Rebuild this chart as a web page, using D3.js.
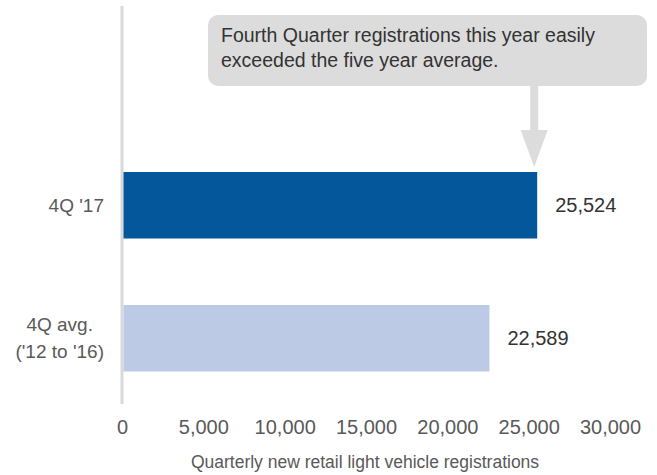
<!DOCTYPE html>
<html>
<head>
<meta charset="utf-8">
<script src="https://cdn.jsdelivr.net/npm/d3@7"></script>
<style>
  body { margin: 0; background: #fff; }
  svg text { font-family: "Liberation Sans Narrow", "Liberation Sans", Arial, sans-serif; }
</style>
</head>
<body>
<div id="chart"></div>
<script>
// data
const categories = [["4Q '17"], ["4Q avg.", "('12 to '16)"]];
const values = [25524, 22589];
const barColors = ["#03579a", "#bccae6"];
const tickValues = [0, 5000, 10000, 15000, 20000, 25000, 30000];
const axisTitle = "Quarterly new retail light vehicle registrations";
const calloutLines = ["Fourth Quarter registrations this year easily", "exceeded the five year average."];

const width = 657, height = 475;

const svg = d3.select('#chart').append('svg')
  .attr('width', width)
  .attr('height', height);

const x = d3.scaleLinear().domain([0, 30000]).range([122, 610]);
const y = d3.scaleBand()
  .domain(d3.range(values.length))
  .range([105.5, 438])
  .paddingInner(0.5)
  .paddingOuter(0.5);

// vertical baseline
svg.append('line')
  .attr('x1', x(0)).attr('x2', x(0))
  .attr('y1', 6).attr('y2', 404)
  .attr('stroke', '#d9d9d9')
  .attr('stroke-width', 3);

// bars
svg.selectAll('rect.bar')
  .data(values)
  .enter().append('rect')
  .attr('class', 'bar')
  .attr('x', x(0) + 1.5)
  .attr('y', (d, i) => y(i))
  .attr('width', d => x(d) - x(0) - 1.5)
  .attr('height', y.bandwidth())
  .attr('fill', (d, i) => barColors[i]);

// value labels
svg.selectAll('text.value')
  .data(values)
  .enter().append('text')
  .attr('class', 'value')
  .attr('x', d => x(d) + 18)
  .attr('y', (d, i) => y(i) + y.bandwidth() / 2)
  .attr('dy', '0.35em')
  .attr('font-size', 20)
  .attr('fill', '#333')
  .text(d => d3.format(',')(d));

// category labels (multi-line block, right edge at 104, lines centred)
categories.forEach((lines, i) => {
  const g = svg.append('g');
  const cy = y(i) + y.bandwidth() / 2;
  const lh = 27;
  const t = g.selectAll('text')
    .data(lines)
    .enter().append('text')
    .attr('font-size', 19)
    .attr('fill', '#595959')
    .attr('text-anchor', 'middle')
    .attr('y', (d, j) => cy + (j - (lines.length - 1) / 2) * lh)
    .attr('dy', '0.35em')
    .text(d => d);
  const maxW = d3.max(t.nodes(), n => n.getComputedTextLength());
  t.attr('x', 104 - maxW / 2);
});

// x axis tick labels
const axis = svg.append('g')
  .attr('transform', 'translate(0,420)')
  .call(d3.axisBottom(x).tickValues(tickValues).tickSize(0).tickPadding(0).tickFormat(d3.format(',')));
axis.select('.domain').remove();
axis.selectAll('text')
  .attr('font-size', 20)
  .attr('fill', '#595959')
  .attr('font-family', '"Liberation Sans Narrow", "Liberation Sans", Arial, sans-serif');

svg.append('text')
  .attr('x', 365)
  .attr('y', 468)
  .attr('text-anchor', 'middle')
  .attr('font-size', 17.5)
  .attr('fill', '#595959')
  .text(axisTitle);

// callout box + arrow pointing at the end of the first bar
const ax = x(values[0]) - 3;
svg.append('rect')
  .attr('x', 208).attr('y', 15)
  .attr('width', 439).attr('height', 71)
  .attr('rx', 10)
  .attr('fill', '#dcdcdc');

svg.append('rect')
  .attr('x', ax - 4).attr('y', 86)
  .attr('width', 8).attr('height', 45)
  .attr('fill', '#dcdcdc');
svg.append('path')
  .attr('d', `M${ax - 13.5},130 L${ax + 13.5},130 L${ax},167 Z`)
  .attr('fill', '#dcdcdc');

svg.selectAll('text.callout')
  .data(calloutLines)
  .enter().append('text')
  .attr('class', 'callout')
  .attr('x', 221)
  .attr('y', (d, i) => 42 + i * 25)
  .attr('font-size', 19.5)
  .attr('fill', '#333')
  .text(d => d);
</script>
</body>
</html>
